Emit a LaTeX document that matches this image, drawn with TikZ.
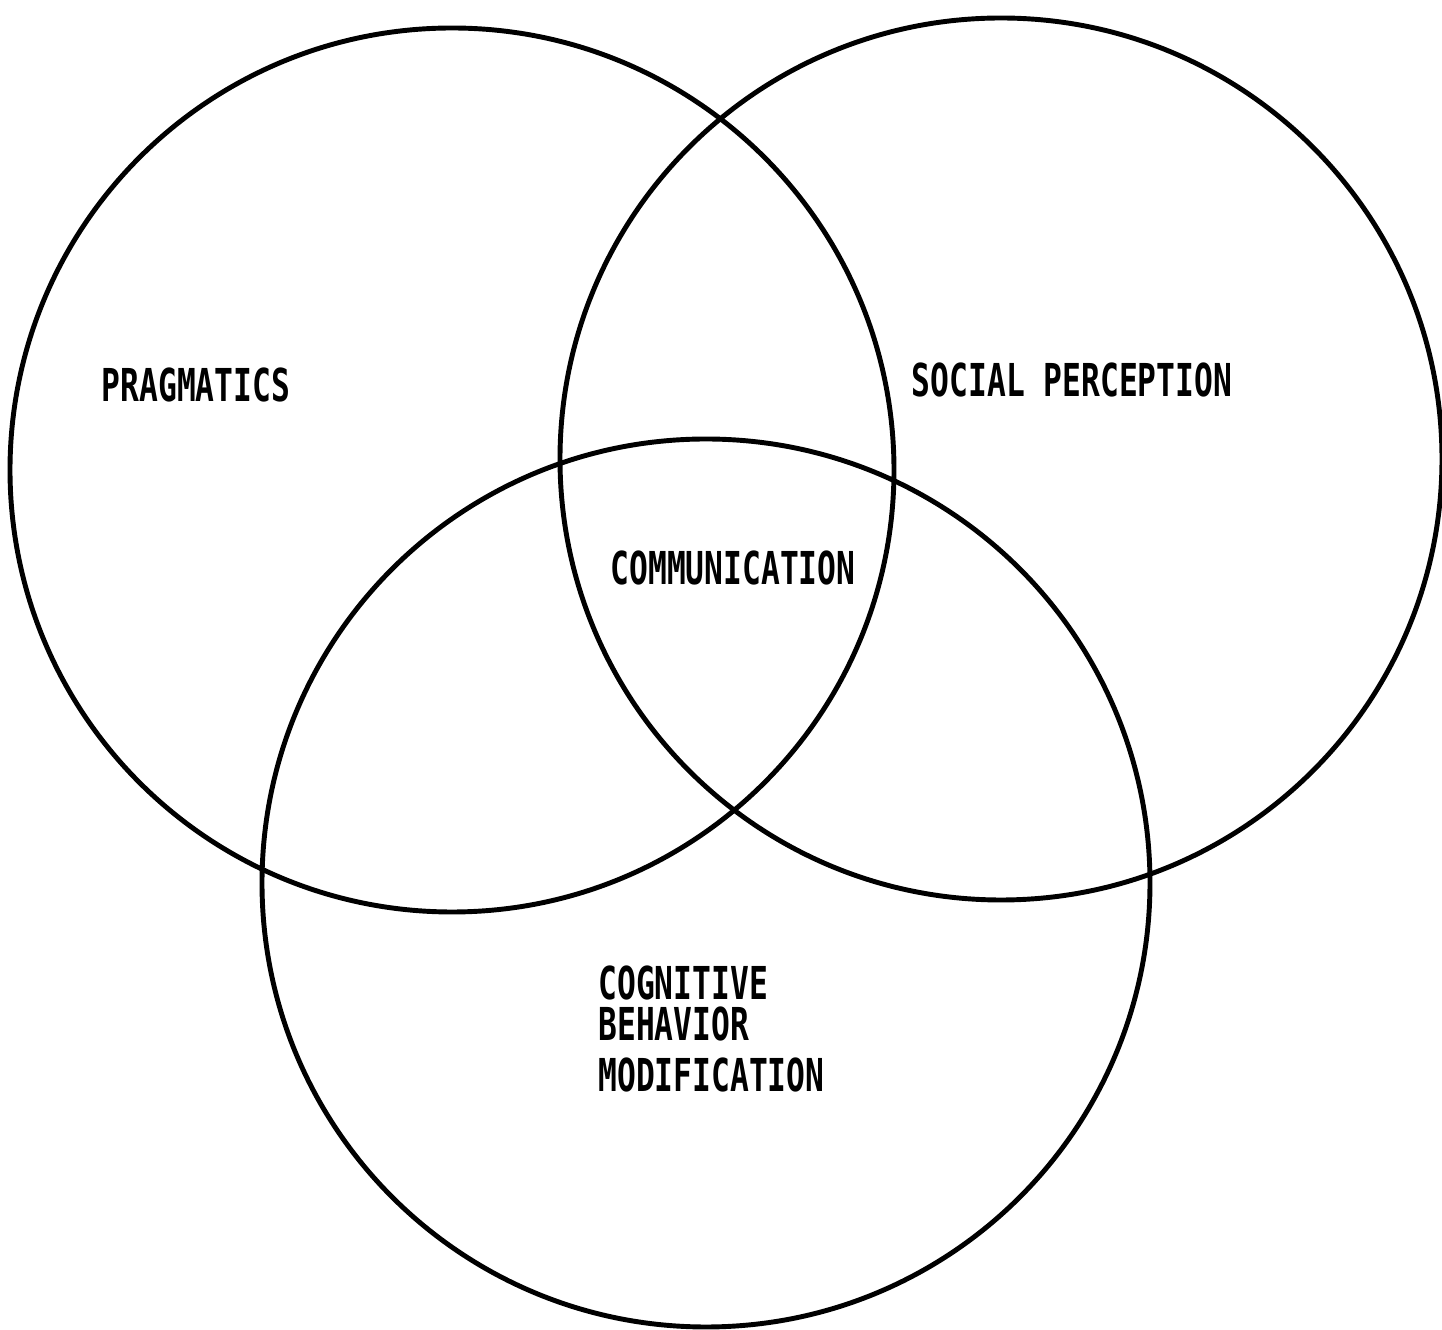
\documentclass[tikz,border=0pt]{standalone}
\usepackage{fontspec}
\usepackage{tikz}
\usetikzlibrary{positioning}
\newfontfamily\typefont{DejaVu Sans Mono}
\tikzset{
  ring/.style={draw=black, line width=1.4pt},
  vlab/.style={font=\typefont\bfseries\fontsize{12.9}{11.6}\selectfont, inner sep=0pt,
               xscale=0.69, align=left},
}

\begin{document}
\begin{tikzpicture}
        \useasboundingbox (0,0) rectangle (14.42,13.30);
        \coordinate (cprag) at (4.52,8.60);
        \coordinate (csoc) at (10.01,8.71);
        \coordinate (ccog) at (7.06,4.47);
        \draw[ring] (cprag) circle (4.42);
        \draw[ring] (csoc) circle (4.41);
        \draw[ring] (ccog) circle (4.44);
        \node[vlab] (prag) at (1.96,9.45) {PRAGMATICS};
        \node[vlab] (soc) at (10.72,9.50) {SOCIAL PERCEPTION};
        \node[vlab] (comm) at (7.33,7.62) {COMMUNICATION};
        \node[vlab, anchor=north west] (cog) at (5.98,3.65) {COGNITIVE\\BEHAVIOR\\[0.11cm]MODIFICATION};
      \end{tikzpicture}
\end{document}
